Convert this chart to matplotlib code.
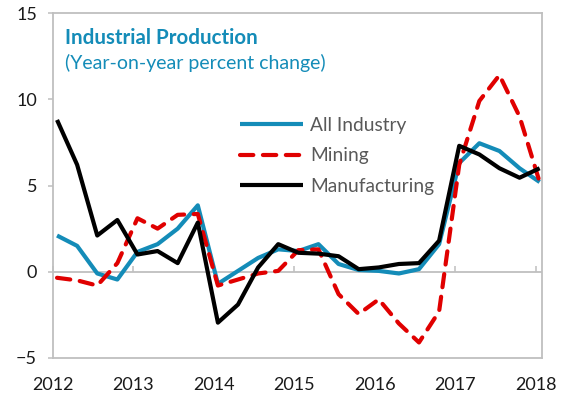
import matplotlib
matplotlib.use("Agg")
import matplotlib.pyplot as plt

plt.rcParams['font.family'] = ['Lato', 'DejaVu Sans']

quarters = ["2012Q1", "2012Q2", "2012Q3", "2012Q4",
            "2013Q1", "2013Q2", "2013Q3", "2013Q4",
            "2014Q1", "2014Q2", "2014Q3", "2014Q4",
            "2015Q1", "2015Q2", "2015Q3", "2015Q4",
            "2016Q1", "2016Q2", "2016Q3", "2016Q4",
            "2017Q1", "2017Q2", "2017Q3", "2017Q4",
            "2018Q1"]
all_industry = [2.1, 1.5, -0.1, -0.45, 1.15, 1.6, 2.5, 3.85,
                -0.7, 0.05, 0.8, 1.3, 1.2, 1.6, 0.45, 0.1,
                0.05, -0.1, 0.15, 1.6, 6.3, 7.45, 7.0, 6.0, 5.2]
mining = [-0.35, -0.5, -0.8, 0.5, 3.1, 2.5, 3.3, 3.35,
          -0.8, -0.45, -0.1, 0.05, 1.25, 1.3, -1.3, -2.45,
          -1.6, -3.0, -4.1, -2.3, 6.2, 9.9, 11.4, 9.0, 5.2]
manufacturing = [8.8, 6.2, 2.1, 3.0, 1.0, 1.2, 0.5, 2.85,
                 -2.95, -1.9, 0.25, 1.6, 1.1, 1.05, 0.9, 0.15,
                 0.25, 0.45, 0.5, 1.8, 7.3, 6.8, 6.0, 5.45, 6.0]
year_ticks = [2012, 2013, 2014, 2015, 2016, 2017, 2018]
y_ticks = [-5, 0, 5, 10, 15]

x = [int(q[:4]) + (int(q[-1]) - 1) * 0.25 + 0.05 for q in quarters]

BLUE = "#148CB8"
RED = "#E00000"
GRAY = "#BFBFBF"

fig = plt.figure(figsize=(5.7, 4.0), dpi=100)
ax = fig.add_axes([0.093, 0.105, 0.858, 0.8625])

ax.plot(x, all_industry, color=BLUE, lw=3.0, solid_capstyle='butt', label="All Industry", zorder=3)
ax.plot(x, mining, color=RED, lw=3.0, dashes=(3.2, 2.3), dash_capstyle='round', label="Mining", zorder=4)
ax.plot(x, manufacturing, color="black", lw=3.0, solid_capstyle='butt', label="Manufacturing", zorder=5)

ax.set_xlim(2012, 2018.08)
ax.set_ylim(-5, 15)
ax.set_yticks(y_ticks)
ax.set_xticks(year_ticks)
ax.tick_params(axis='x', length=0, pad=14, labelsize=13, labelcolor="#1a1a1a")
ax.tick_params(axis='y', length=3.5, width=1.1, color=GRAY, pad=8, labelsize=13, labelcolor="#1a1a1a")
for s in ax.spines.values():
    s.set_color(GRAY)
    s.set_linewidth(1.3)

ax.axhline(0, color=GRAY, lw=1.3, zorder=1)
sec = ax.secondary_xaxis((0 - (-5)) / 20.0)
sec.set_xticks(year_ticks)
sec.tick_params(axis='x', direction='in', length=4, width=1.1, color=GRAY, labelbottom=False)
sec.spines['bottom'].set_visible(False)

ax.text(0.0245, 0.927, "Industrial Production", transform=ax.transAxes,
        fontsize=14.8, fontweight='bold', color=BLUE, va='center', ha='left')
ax.text(0.0245, 0.855, "(Year-on-year percent change)", transform=ax.transAxes,
        fontsize=14, color=BLUE, va='center', ha='left')

leg = ax.legend(loc='upper left', bbox_to_anchor=(0.382, 0.699), frameon=False,
                handlelength=3.3, handletextpad=0.37, labelspacing=0.7,
                fontsize=13.8, borderpad=0, borderaxespad=0)
for t in leg.get_texts():
    t.set_color("#595959")

fig.savefig("out.png", dpi=100)
